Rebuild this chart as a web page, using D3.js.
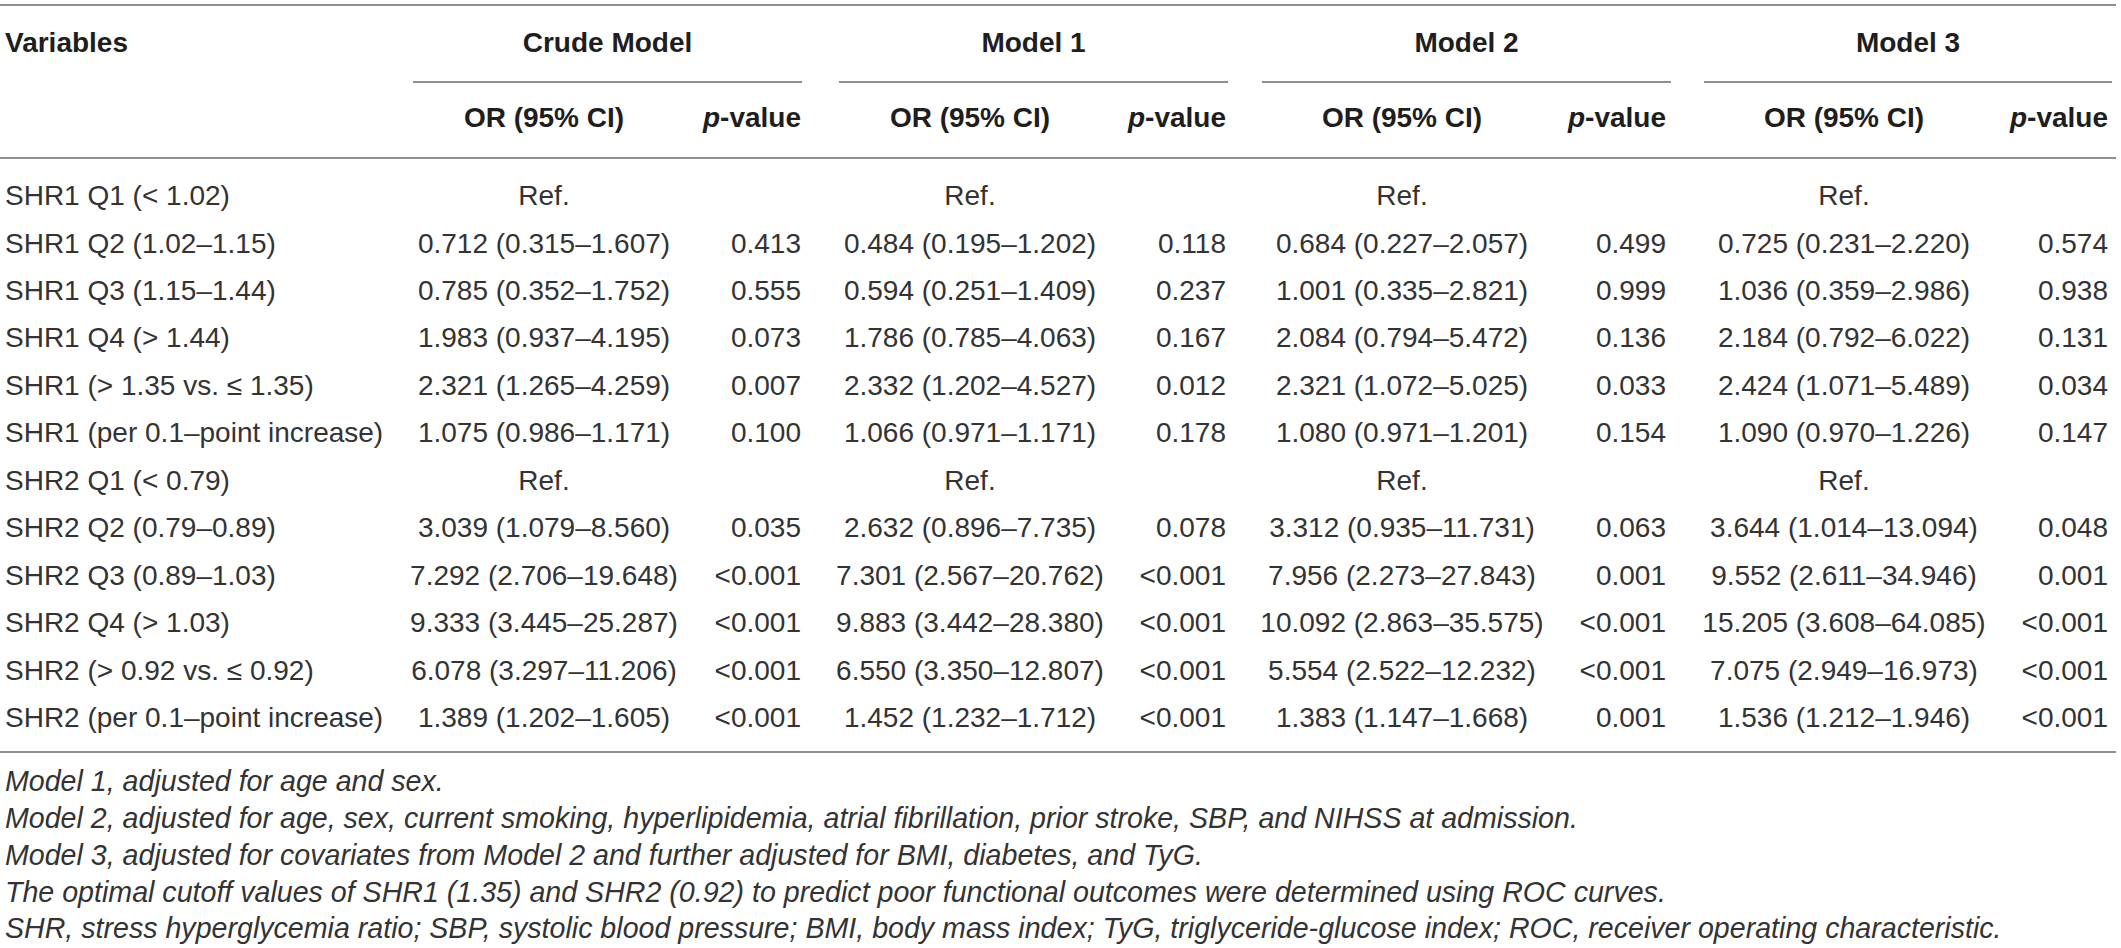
<!DOCTYPE html>
<html>
<head>
<meta charset="utf-8">
<script src="https://cdn.jsdelivr.net/npm/d3@7"></script>
<style>
  body { margin: 0; background: #fff; }
  svg { display: block; }
</style>
</head>
<body>
<div id="table-chart"></div>
<script>
// Odds ratio table for SHR1 / SHR2 across models

const variables = [
  "SHR1 Q1 (< 1.02)",
  "SHR1 Q2 (1.02–1.15)",
  "SHR1 Q3 (1.15–1.44)",
  "SHR1 Q4 (> 1.44)",
  "SHR1 (> 1.35 vs. ≤ 1.35)",
  "SHR1 (per 0.1–point increase)",
  "SHR2 Q1 (< 0.79)",
  "SHR2 Q2 (0.79–0.89)",
  "SHR2 Q3 (0.89–1.03)",
  "SHR2 Q4 (> 1.03)",
  "SHR2 (> 0.92 vs. ≤ 0.92)",
  "SHR2 (per 0.1–point increase)"
];

const models = ["Crude Model", "Model 1", "Model 2", "Model 3"];

const crudeOR = ["Ref.", "0.712 (0.315–1.607)", "0.785 (0.352–1.752)", "1.983 (0.937–4.195)", "2.321 (1.265–4.259)", "1.075 (0.986–1.171)",
  "Ref.", "3.039 (1.079–8.560)", "7.292 (2.706–19.648)", "9.333 (3.445–25.287)", "6.078 (3.297–11.206)", "1.389 (1.202–1.605)"];
const crudeP = ["", "0.413", "0.555", "0.073", "0.007", "0.100", "", "0.035", "<0.001", "<0.001", "<0.001", "<0.001"];

const model1OR = ["Ref.", "0.484 (0.195–1.202)", "0.594 (0.251–1.409)", "1.786 (0.785–4.063)", "2.332 (1.202–4.527)", "1.066 (0.971–1.171)",
  "Ref.", "2.632 (0.896–7.735)", "7.301 (2.567–20.762)", "9.883 (3.442–28.380)", "6.550 (3.350–12.807)", "1.452 (1.232–1.712)"];
const model1P = ["", "0.118", "0.237", "0.167", "0.012", "0.178", "", "0.078", "<0.001", "<0.001", "<0.001", "<0.001"];

const model2OR = ["Ref.", "0.684 (0.227–2.057)", "1.001 (0.335–2.821)", "2.084 (0.794–5.472)", "2.321 (1.072–5.025)", "1.080 (0.971–1.201)",
  "Ref.", "3.312 (0.935–11.731)", "7.956 (2.273–27.843)", "10.092 (2.863–35.575)", "5.554 (2.522–12.232)", "1.383 (1.147–1.668)"];
const model2P = ["", "0.499", "0.999", "0.136", "0.033", "0.154", "", "0.063", "0.001", "<0.001", "<0.001", "0.001"];

const model3OR = ["Ref.", "0.725 (0.231–2.220)", "1.036 (0.359–2.986)", "2.184 (0.792–6.022)", "2.424 (1.071–5.489)", "1.090 (0.970–1.226)",
  "Ref.", "3.644 (1.014–13.094)", "9.552 (2.611–34.946)", "15.205 (3.608–64.085)", "7.075 (2.949–16.973)", "1.536 (1.212–1.946)"];
const model3P = ["", "0.574", "0.938", "0.131", "0.034", "0.147", "", "0.048", "0.001", "<0.001", "<0.001", "<0.001"];

const footnotes = [
  "Model 1, adjusted for age and sex.",
  "Model 2, adjusted for age, sex, current smoking, hyperlipidemia, atrial fibrillation, prior stroke, SBP, and NIHSS at admission.",
  "Model 3, adjusted for covariates from Model 2 and further adjusted for BMI, diabetes, and TyG.",
  "The optimal cutoff values of SHR1 (1.35) and SHR2 (0.92) to predict poor functional outcomes were determined using ROC curves.",
  "SHR, stress hyperglycemia ratio; SBP, systolic blood pressure; BMI, body mass index; TyG, triglyceride-glucose index; ROC, receiver operating characteristic."
];

(function() {
  const width = 2121, height = 948;
  const fontFamily = "'Liberation Sans', Arial, Helvetica, sans-serif";
  const fontSize = 28;
  const textColor = "#333333";
  const headColor = "#1e1e1e";
  const ruleColor = "#8f8f8f";

  const svg = d3.select("#table-chart")
    .append("svg")
    .attr("width", width)
    .attr("height", height)
    .style("font-family", fontFamily)
    .style("font-size", fontSize + "px")
    .style("fill", textColor);

  // model groups: left/right of the underline, OR centre, p-value right edge
  const groupData = models.map((name, i) => ({
    name: name,
    left: [413, 839, 1262, 1704][i],
    right: [802, 1228, 1671, 2112][i],
    orX: [544, 970, 1402, 1844][i],
    pX: [801, 1226, 1666, 2108][i],
    or: [crudeOR, model1OR, model2OR, model3OR][i],
    p: [crudeP, model1P, model2P, model3P][i]
  }));

  // row scales
  const y = d3.scalePoint().domain(variables).range([195, 717]);
  const yNote = d3.scalePoint().domain(footnotes).range([781, 928]);

  const hline = (y0, x0, x1) => svg.append("line")
    .attr("x1", x0).attr("x2", x1)
    .attr("y1", y0).attr("y2", y0)
    .attr("stroke", ruleColor)
    .attr("stroke-width", 2);

  // rules
  hline(5, 0, 2116);
  hline(158, 0, 2116);
  hline(752, 0, 2116);
  groupData.forEach(g => hline(82, g.left, g.right));

  // header row 1
  svg.append("text")
    .attr("x", 5).attr("y", 42).attr("dy", "0.36em")
    .style("font-weight", "bold")
    .style("fill", headColor)
    .text("Variables");

  svg.selectAll(".group-head")
    .data(groupData)
    .enter()
    .append("text")
    .attr("class", "group-head")
    .attr("x", d => (d.left + d.right) / 2)
    .attr("y", 42).attr("dy", "0.36em")
    .attr("text-anchor", "middle")
    .style("font-weight", "bold")
    .style("fill", headColor)
    .text(d => d.name);

  // header row 2
  svg.selectAll(".or-head")
    .data(groupData)
    .enter()
    .append("text")
    .attr("class", "or-head")
    .attr("x", d => d.orX)
    .attr("y", 117).attr("dy", "0.36em")
    .attr("text-anchor", "middle")
    .style("font-weight", "bold")
    .style("fill", headColor)
    .text("OR (95% CI)");

  const pHead = svg.selectAll(".p-head")
    .data(groupData)
    .enter()
    .append("text")
    .attr("class", "p-head")
    .attr("x", d => d.pX)
    .attr("y", 117).attr("dy", "0.36em")
    .attr("text-anchor", "end")
    .style("font-weight", "bold")
    .style("fill", headColor);
  pHead.append("tspan").style("font-style", "italic").text("p");
  pHead.append("tspan").text("-value");

  // variable labels
  svg.selectAll(".var-label")
    .data(variables)
    .enter()
    .append("text")
    .attr("class", "var-label")
    .attr("x", 5)
    .attr("y", d => y(d)).attr("dy", "0.36em")
    .text(d => d);

  // cells
  groupData.forEach(g => {
    svg.selectAll(null)
      .data(g.or)
      .enter()
      .append("text")
      .attr("x", g.orX)
      .attr("y", (d, i) => y(variables[i])).attr("dy", "0.36em")
      .attr("text-anchor", "middle")
      .text(d => d);

    svg.selectAll(null)
      .data(g.p)
      .enter()
      .append("text")
      .attr("x", g.pX)
      .attr("y", (d, i) => y(variables[i])).attr("dy", "0.36em")
      .attr("text-anchor", "end")
      .text(d => d);
  });

  // footnotes
  svg.selectAll(".note")
    .data(footnotes)
    .enter()
    .append("text")
    .attr("class", "note")
    .attr("x", 5)
    .attr("y", d => yNote(d)).attr("dy", "0.36em")
    .style("font-style", "italic")
    .style("font-size", "28.6px")
    .text(d => d);
})();
</script>
</body>
</html>
